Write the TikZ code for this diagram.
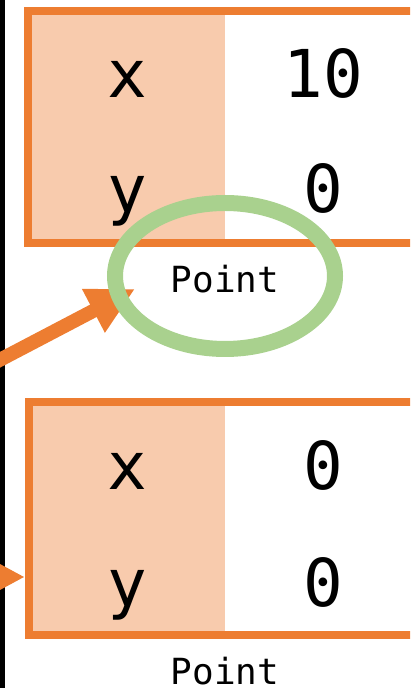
\documentclass[tikz,border=0pt]{standalone}
\usepackage{fontspec}
\setmonofont{DejaVu Sans Mono}
\usetikzlibrary{arrows.meta,calc,positioning,shapes.geometric}
\definecolor{boxline}{HTML}{ED7D31}
\definecolor{keyfill}{HTML}{F8CBAD}
\definecolor{ringgreen}{HTML}{A9D18E}

\begin{document}
\begin{tikzpicture}[
  x=1pt, y=1pt,
  font=\ttfamily,
  cell/.style={anchor=base, inner sep=0pt, font=\ttfamily\fontsize{66}{66}\selectfont},
  typename/.style={anchor=base, inner sep=0pt, font=\ttfamily\fontsize{36}{36}\selectfont},
  frame/.style={draw=boxline, line width=8pt},
  ring/.style={ellipse, draw=ringgreen, line width=16pt, inner sep=0pt,
    minimum width=220pt, minimum height=146pt},
  ref/.style={-{Triangle[length=47pt,width=46pt]}, line width=14pt, boxline}
]
  \useasboundingbox (0,0) rectangle (410,688);
  \clip (0,0) rectangle (410,688);

  % stack edge
  \draw[line width=5pt] (2.5,-10) -- (2.5,700);

  % first Point object
  \fill[keyfill] (28,445) rectangle (225,677);
  \draw[frame] (28,445) rectangle (440,677);
  \node[cell] (xa) at (127,590) {x};
  \node[cell] (va) at (323,590) {10};
  \node[cell] (ya) at (127,475) {y};
  \node[cell] (wa) at (323,475) {0};
  \node[typename] (pa) at (225,395) {Point};

  % second Point object
  \fill[keyfill] (29,52.5) rectangle (225,286);
  \draw[frame] (29,52.5) rectangle (440,286);
  \node[cell] (xb) at (127,198) {x};
  \node[cell] (vb) at (323,198) {0};
  \node[cell] (yb) at (127,81) {y};
  \node[cell] (wb) at (323,81) {0};
  \node[typename] (pb) at (225,4) {Point};

  % references
  \coordinate (srca) at (-10,323);
  \coordinate (tipa) at (135,399);
  \coordinate (srcb) at (-60,111);
  \coordinate (tipb) at (25,111);
  \draw[ref] (srca) -- (tipa);
  \draw[ref] (srcb) -- (tipb);

  \node[ring] (hl) at (225,412) {};
\end{tikzpicture}
\end{document}
